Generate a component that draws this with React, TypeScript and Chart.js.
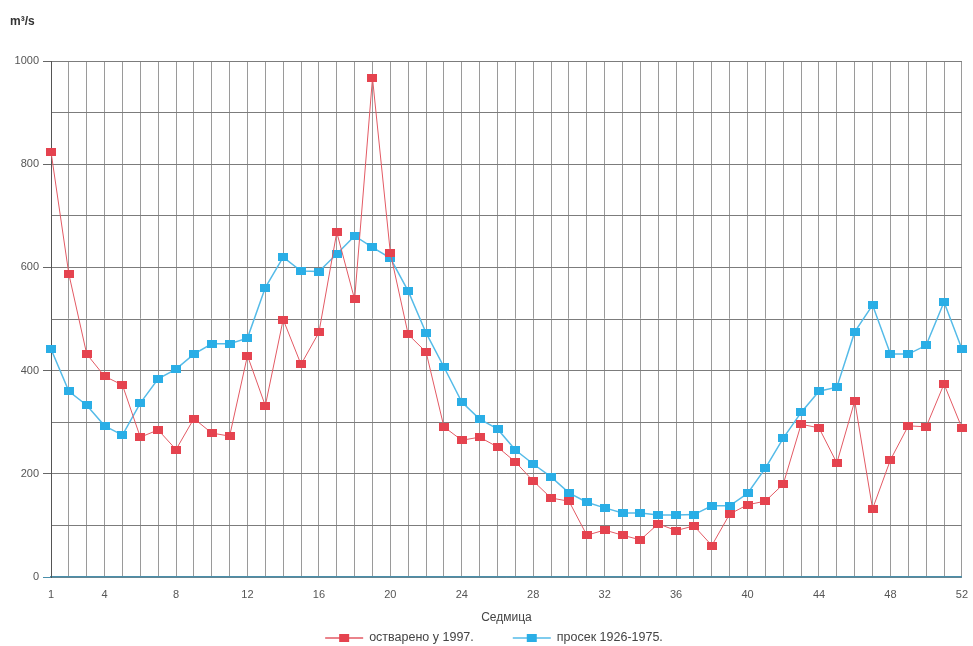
import React, { useEffect, useRef } from 'react';
import { Chart, registerables } from 'chart.js';

Chart.register(...registerables);

const weeks = ['1','2','3','4','5','6','7','8','9','10','11','12','13','14','15','16','17','18','19','20','21','22','23','24','25','26','27','28','29','30','31','32','33','34','35','36','37','38','39','40','41','42','43','44','45','46','47','48','49','50','51','52'];
const xTickLabels = ['1','4','8','12','16','20','24','28','32','36','40','44','48','52'];
const yTickLabels = [0, 200, 400, 600, 800, 1000];

const actual1997 = [824, 587, 432, 389, 372, 271, 285, 247, 307, 279,
  273, 429, 332, 499, 412, 474, 668, 538, 967, 628,
  470, 436, 291, 265, 271, 252, 223, 186, 153, 147,
  81, 91, 81, 72, 103, 90, 99, 61, 122, 140,
  147, 180, 296, 289, 221, 341, 132, 227, 293, 291, 374, 289];

const average1926_1975 = [442, 360, 333, 293, 275, 337, 384, 403, 432, 452,
  452, 463, 561, 620, 593, 592, 626, 661, 639, 618,
  554, 473, 407, 339, 306, 287, 246, 219, 194, 163,
  145, 134, 124, 124, 120, 120, 121, 138, 138, 162,
  211, 269, 319, 360, 368, 475, 527, 432, 432, 449, 533, 442];

const seriesNames = ['остварено у 1997.', 'просек 1926-1975.'];
const yUnit = 'm³/s';
const xTitle = 'Седмица';

const RED = '#e5434f';
const RED_LINE = '#e35a64';
const BLUE = '#2aaee6';
const BLUE_LINE = '#55bbe8';
const AXIS_TEAL = '#4a8fab';

function makeMarker(color: string) {
  const c = document.createElement('canvas');
  c.width = 10;
  c.height = 8;
  const ctx = c.getContext('2d')!;
  ctx.fillStyle = color;
  ctx.fillRect(0, 0, 10, 8);
  return c;
}

const LEGEND_FONT = '12.5px "Liberation Sans", Arial, sans-serif';

const lineLegendPlugin = {
  id: 'lineLegend',
  afterDraw(chart: any) {
    const ctx: CanvasRenderingContext2D = chart.ctx;
    ctx.save();
    ctx.font = LEGEND_FONT;
    const sym = 38;
    const textGap = 6;
    const itemGap = 39;
    const items = chart.data.datasets.map((ds: any) => ({
      text: ds.label as string,
      line: ds.borderColor as string,
      fill: ds.backgroundColor as string,
      w: sym + textGap + ctx.measureText(ds.label).width,
    }));
    const total = items.reduce((a: number, it: any) => a + it.w, 0) + itemGap * (items.length - 1);
    let x = 494 - total / 2;
    const y = 638;
    items.forEach((it: any) => {
      ctx.strokeStyle = it.line;
      ctx.lineWidth = 1.5;
      ctx.beginPath();
      ctx.moveTo(x, y);
      ctx.lineTo(x + sym, y);
      ctx.stroke();
      ctx.fillStyle = it.fill;
      ctx.fillRect(x + sym / 2 - 5, y - 4, 10, 8);
      ctx.fillStyle = '#444';
      ctx.textBaseline = 'middle';
      ctx.textAlign = 'left';
      ctx.fillText(it.text, x + sym + textGap, y);
      x += it.w + itemGap;
    });
    ctx.restore();
  },
};

export default function App() {
  const ref = useRef<HTMLCanvasElement | null>(null);

  useEffect(() => {
    if (!ref.current) return;
    const redMarker = makeMarker(RED);
    const blueMarker = makeMarker(BLUE);

    const chart = new Chart(ref.current, {
      type: 'line',
      data: {
        labels: weeks,
        datasets: [
          {
            label: seriesNames[0],
            data: actual1997,
            borderColor: RED_LINE,
            borderWidth: 1,
            backgroundColor: RED,
            pointStyle: redMarker as any,
            tension: 0,
          },
          {
            label: seriesNames[1],
            data: average1926_1975,
            borderColor: BLUE_LINE,
            borderWidth: 1.5,
            backgroundColor: BLUE,
            pointStyle: blueMarker as any,
            tension: 0,
          },
        ],
      },
      plugins: [lineLegendPlugin],
      options: {
        responsive: false,
        animation: false,
        devicePixelRatio: 1,
        layout: { padding: { left: 10, right: 11, top: 0, bottom: 19.4 } },
        plugins: {
          title: {
            display: true,
            text: yUnit,
            align: 'start',
            color: '#333',
            font: { family: 'Liberation Sans', size: 12, weight: 'bold' },
            padding: { top: 14, bottom: 32.6 },
          },
          tooltip: { enabled: false },
          legend: { display: false },
        },
        scales: {
          x: {
            type: 'category',
            offset: false,
            grid: {
              color: '#9a9a9a',
              lineWidth: 1,
              tickLength: 6,
              tickColor: 'transparent',
            },
            border: { color: AXIS_TEAL, width: 1.5 },
            ticks: {
              autoSkip: false,
              maxRotation: 0,
              padding: 5,
              color: '#555',
              font: { family: 'Liberation Sans', size: 11 },
              callback: function (this: any, _v: any, i: number) {
                const lbl = weeks[i];
                return xTickLabels.includes(lbl) ? lbl : '';
              },
            },
            title: {
              display: true,
              text: xTitle,
              color: '#444',
              font: { family: 'Liberation Sans', size: 12 },
              padding: { top: 4, bottom: 2 },
            },
          },
          y: {
            min: 0,
            max: 1000,
            afterFit: (s: any) => {
              s.width = 41;
            },
            grid: {
              color: '#7c7c7c',
              lineWidth: 1,
              tickLength: 8,
              tickColor: (ctx: any) => {
                const v = ctx.tick?.value;
                if (v === 0) return AXIS_TEAL;
                return yTickLabels.includes(v) ? '#666' : 'transparent';
              },
            },
            border: { color: '#555', width: 1 },
            ticks: {
              stepSize: 100,
              padding: 4,
              color: '#555',
              font: { family: 'Liberation Sans', size: 11 },
              callback: (v: any) => (yTickLabels.includes(Number(v)) ? String(v) : ''),
            },
          },
        },
      },
    });
    return () => chart.destroy();
  }, []);

  return (
    <div style={{ position: 'fixed', left: 0, top: 0, width: 973, height: 646, background: '#fff' }}>
      <canvas ref={ref} width={973} height={646} style={{ display: 'block' }} />
    </div>
  );
}
